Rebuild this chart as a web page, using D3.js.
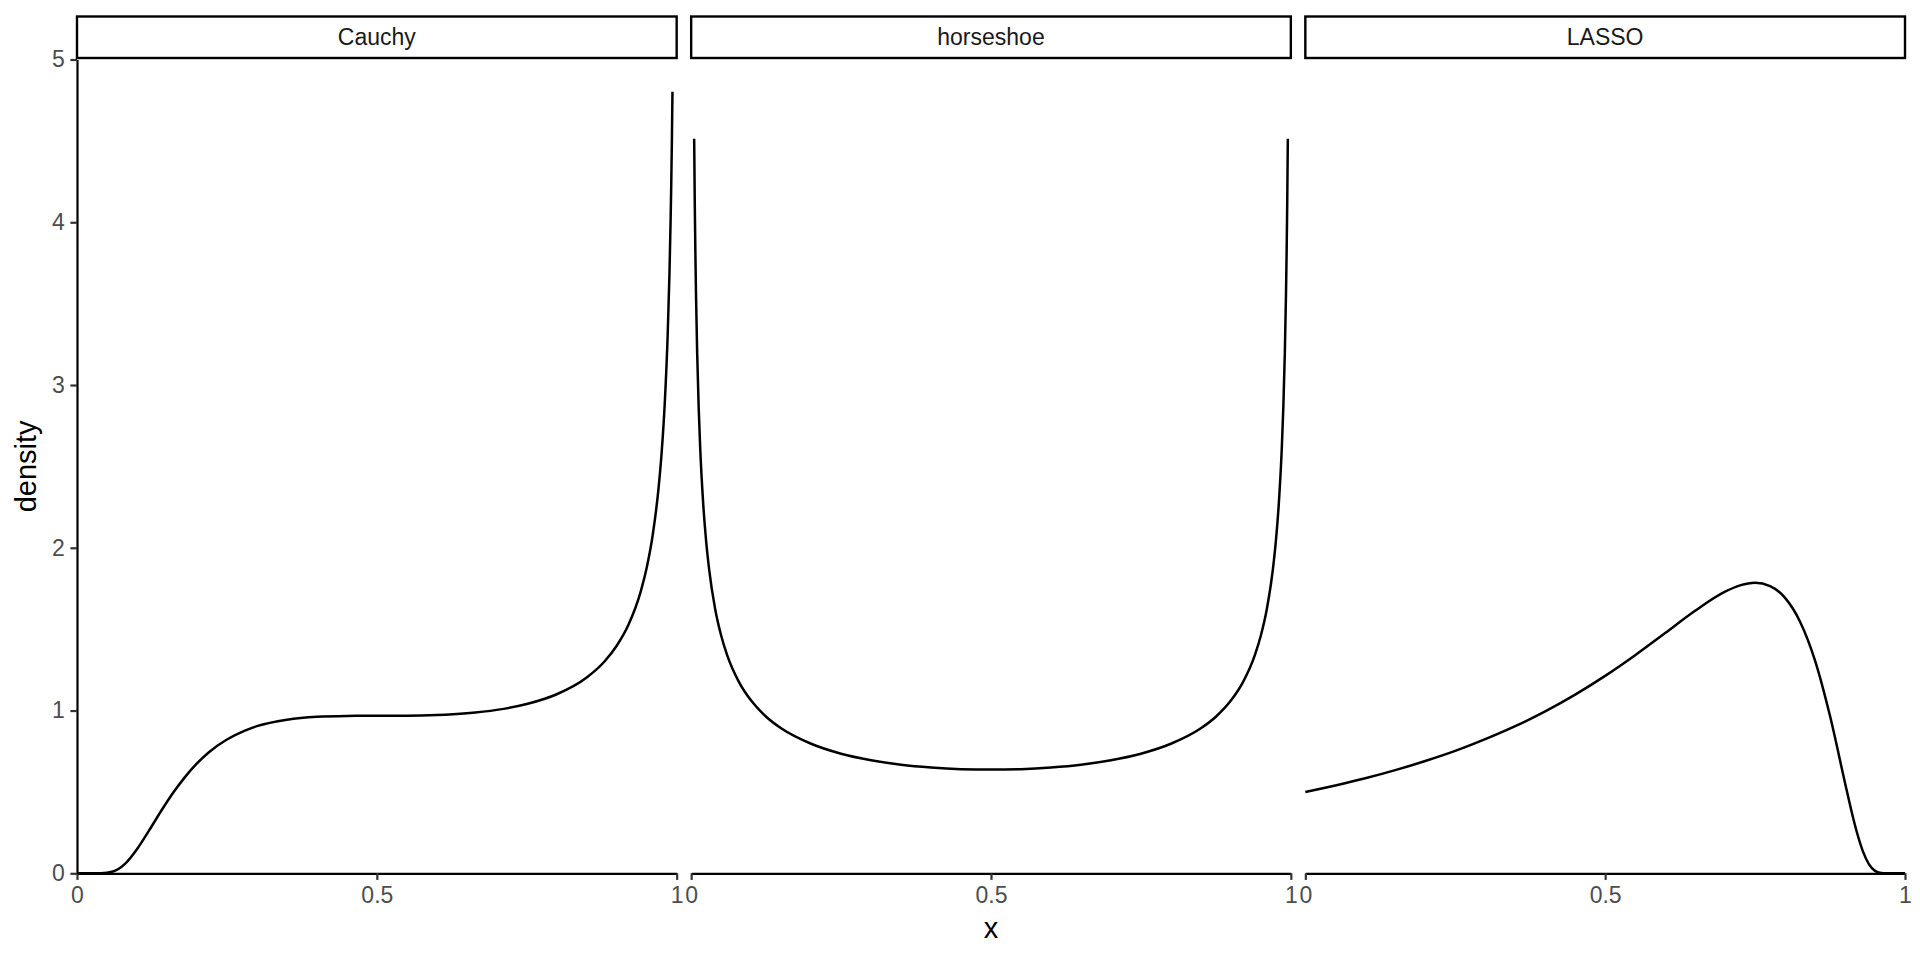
<!DOCTYPE html>
<html>
<head>
<meta charset="utf-8">
<script src="https://cdn.jsdelivr.net/npm/d3@7"></script>
<style>
body { margin: 0; background: white; }
svg { display: block; font-family: "Liberation Sans", Arial, Helvetica, sans-serif; }
</style>
</head>
<body>
<svg id="chart"></svg>
<script>

// facet names, in panel order
const facets = ["Cauchy", "horseshoe", "LASSO"];

const xTicks = [0, 0.5, 1];
const yTicks = [0, 1, 2, 3, 4, 5];

// values
const cauchyX = [0, 0.02, 0.04, 0.06, 0.08, 0.10, 0.12, 0.14, 0.16, 0.18, 0.20, 0.22, 0.25, 0.28, 0.30,
                 0.35, 0.40, 0.45, 0.50, 0.55, 0.60, 0.65, 0.70, 0.75, 0.80, 0.85, 0.88, 0.90, 0.92,
                 0.94, 0.95, 0.96, 0.97, 0.975, 0.98, 0.985, 0.988, 0.99, 0.991, 0.992, 0.993];
const cauchyY = [0, 0, 0.0003, 0.011, 0.058, 0.148, 0.262, 0.381, 0.493, 0.591, 0.675, 0.744, 0.822, 0.877, 0.904,
                 0.944, 0.962, 0.967, 0.968, 0.968, 0.972, 0.983, 1.004, 1.040, 1.100, 1.203, 1.303, 1.398, 1.530,
                 1.731, 1.877, 2.077, 2.374, 2.587, 2.878, 3.306, 3.686, 4.030, 4.243, 4.496, 4.802];

const horseshoeX = [0.005, 0.006, 0.007, 0.008, 0.01, 0.0125, 0.015, 0.02, 0.025, 0.03, 0.04, 0.05, 0.06, 0.08,
                    0.10, 0.125, 0.15, 0.2, 0.25, 0.3, 0.35, 0.4, 0.45, 0.5,
                    0.55, 0.6, 0.65, 0.7, 0.75, 0.8, 0.85, 0.875, 0.9, 0.92, 0.94, 0.95, 0.96, 0.97,
                    0.975, 0.98, 0.985, 0.9875, 0.99, 0.992, 0.993, 0.994, 0.995];
const horseshoeY = [4.513, 4.122, 3.818, 3.573, 3.199, 2.865, 2.619, 2.274, 2.039, 1.866, 1.624, 1.461, 1.340, 1.173,
                    1.061, 0.962, 0.891, 0.796, 0.735, 0.695, 0.667, 0.650, 0.640, 0.637,
                    0.640, 0.650, 0.667, 0.695, 0.735, 0.796, 0.891, 0.962, 1.061, 1.173, 1.340, 1.461, 1.624, 1.866,
                    2.039, 2.274, 2.619, 2.865, 3.199, 3.573, 3.818, 4.122, 4.513];

const lassoX = [0, 0.05, 0.1, 0.15, 0.2, 0.25, 0.3, 0.35, 0.4, 0.45, 0.5, 0.55, 0.6, 0.65, 0.7, 0.725,
                0.75, 0.775, 0.8, 0.825, 0.85, 0.875, 0.9, 0.91, 0.92, 0.93, 0.94, 0.95, 0.96, 0.97, 1];
const lassoY = [0.500, 0.540, 0.584, 0.634, 0.690, 0.752, 0.824, 0.904, 0.995, 1.098, 1.213, 1.340, 1.476, 1.613, 1.730, 1.769,
                1.785, 1.765, 1.692, 1.546, 1.307, 0.966, 0.555, 0.394, 0.249, 0.133, 0.055, 0.015, 0.002, 0, 0];

const series = [
    d3.zip(cauchyX, cauchyY),
    d3.zip(horseshoeX, horseshoeY),
    d3.zip(lassoX, lassoY)
];

const width = 1920;
const height = 960;

const svg = d3.select("#chart")
              .attr("width", width)
              .attr("height", height);

// panel geometry, roughly what ggplot gave
const plotLeft = 77;
const plotRight = 1905;
const gap = 14.5;
const panelW = (plotRight - plotLeft - 2 * gap) / 3;
const panelTop = 59.5;
const panelBottom = 873.3;
const stripTop = 16.5;
const stripBottom = 58;

const y = d3.scaleLinear().domain([0, 5]).range([panelBottom, panelTop]);

const tickLen = 6.6;
const fmt = d3.format("~g");

function styleAxis(g)
{
    g.select(".domain").attr("stroke", "black").attr("stroke-width", 2.2);
    g.selectAll(".tick line").attr("stroke", "#333333").attr("stroke-width", 2.2);
    g.selectAll(".tick text").attr("fill", "#4D4D4D").style("font-size", "23px");
}

facets.forEach(function(name, i)
{
    const px = plotLeft + i * (panelW + gap);
    const x = d3.scaleLinear().domain([0, 1]).range([px, px + panelW]);

    // curve
    const line = d3.line()
                   .x(d => x(d[0]))
                   .y(d => y(d[1]))
                   .curve(d3.curveMonotoneX);

    svg.append("path")
       .datum(series[i])
       .attr("d", line)
       .attr("fill", "none")
       .attr("stroke", "black")
       .attr("stroke-width", 2.5);

    // bottom axis on every panel
    const gx = svg.append("g")
                  .attr("transform", "translate(0," + panelBottom + ")")
                  .call(d3.axisBottom(x)
                          .tickValues(xTicks)
                          .tickFormat(fmt)
                          .tickSize(tickLen)
                          .tickSizeOuter(0)
                          .tickPadding(7));
    styleAxis(gx);

    // left axis only on the first panel
    if (i === 0)
    {
        const gy = svg.append("g")
                      .attr("transform", "translate(" + px + ",0)")
                      .call(d3.axisLeft(y)
                              .tickValues(yTicks)
                              .tickFormat(fmt)
                              .tickSize(tickLen)
                              .tickSizeOuter(0)
                              .tickPadding(5.5));
        styleAxis(gy);
    }

    // strip
    svg.append("rect")
       .attr("x", px)
       .attr("y", stripTop)
       .attr("width", panelW)
       .attr("height", stripBottom - stripTop)
       .attr("fill", "white")
       .attr("stroke", "black")
       .attr("stroke-width", 2.4);

    svg.append("text")
       .attr("x", px + panelW / 2)
       .attr("y", 45.3)
       .attr("text-anchor", "middle")
       .attr("fill", "#1A1A1A")
       .style("font-size", "23px")
       .text(name);
});

// axis titles
svg.append("text")
   .attr("x", (plotLeft + plotRight) / 2)
   .attr("y", 938)
   .attr("text-anchor", "middle")
   .attr("fill", "black")
   .style("font-size", "29px")
   .text("x");

svg.append("text")
   .attr("transform", "translate(35.5," + ((panelTop + panelBottom) / 2) + ") rotate(-90)")
   .attr("text-anchor", "middle")
   .attr("fill", "black")
   .style("font-size", "29px")
   .text("density");

</script>
</body>
</html>
